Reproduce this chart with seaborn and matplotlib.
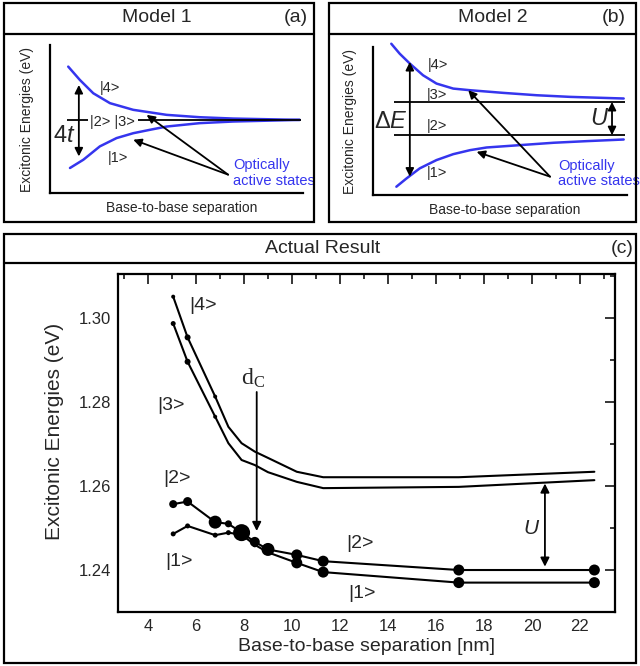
import numpy as np
import matplotlib
matplotlib.use("Agg")
import matplotlib.pyplot as plt
import seaborn as sns
from matplotlib.patches import Rectangle
from matplotlib.lines import Line2D
from matplotlib.ticker import MultipleLocator, FormatStrFormatter

sns.set_style("white")
plt.rcParams['font.family'] = ['Liberation Sans', 'DejaVu Sans']
plt.rcParams['mathtext.fontset'] = 'custom'
plt.rcParams['mathtext.rm'] = 'Liberation Sans'
plt.rcParams['mathtext.it'] = 'Liberation Sans:italic'

BLUE = '#3535ee'

# ---- panel (a): schematic, arbitrary units ----
a_up_x = [0.72, 1.18, 1.71, 2.37, 3.29, 4.61, 5.92, 7.24, 9.87]
a_up_y = [8.54, 7.64, 6.74, 6.07, 5.62, 5.28, 5.12, 5.03, 4.94]
a_lo_x = [0.79, 1.32, 1.97, 2.63, 3.29, 3.95, 4.61, 5.92, 7.24, 9.87]
a_lo_y = [1.69, 2.25, 3.15, 3.71, 4.04, 4.27, 4.49, 4.72, 4.83, 4.94]
a_mid_level = 4.94

# ---- panel (b): schematic, arbitrary units ----
b_up_x = [0.72, 1.05, 1.45, 1.97, 2.50, 3.16, 3.82, 5.13, 6.45, 7.76, 9.87]
b_up_y = [10.22, 9.55, 8.88, 8.09, 7.53, 7.19, 7.08, 6.90, 6.74, 6.63, 6.52]
b_lo_x = [0.92, 1.32, 1.84, 2.50, 3.16, 3.82, 4.47, 5.79, 7.11, 8.42, 9.87]
b_lo_y = [0.56, 1.12, 1.80, 2.36, 2.76, 3.03, 3.21, 3.37, 3.53, 3.64, 3.75]
b_level3 = 6.29
b_level2 = 4.04

# ---- panel (c): actual result ----
sep = [5.05, 5.65, 6.8, 7.35, 7.9, 8.45, 9.0, 10.2, 11.3, 16.95, 22.6]   # nm
E4 = [1.3051, 1.2954, 1.2813, 1.2741, 1.2702, 1.2682, 1.2667, 1.2634, 1.2621, 1.2621, 1.2634]
E3 = [1.2987, 1.2896, 1.2765, 1.2702, 1.2662, 1.2650, 1.2633, 1.2610, 1.2595, 1.2598, 1.2614]
E2 = [1.2557, 1.2563, 1.2514, 1.2510, 1.2489, 1.2467, 1.2449, 1.2436, 1.2421, 1.2400, 1.2400]
E1 = [1.2486, 1.2505, 1.2483, 1.2489, 1.2484, 1.2460, 1.2442, 1.2417, 1.2395, 1.2370, 1.2370]
# relative oscillator strength (marker weight)
w4 = [4, 6, 4]
w3 = [5, 6, 4]
w2 = [8, 9, 13, 7, 17, 10, 13, 11, 11, 11, 11]
w1 = [5, 5, 5, 5, 5, 5, 5, 11, 11, 11, 11]

W, H = 640, 666
fig = plt.figure(figsize=(W / 100, H / 100), dpi=100)


def fx(px):
    return px / W


def fy(py):
    return 1 - py / H


def frame(x0, y0, x1, y1, ysep):
    fig.add_artist(Rectangle((fx(x0), fy(y1)), fx(x1) - fx(x0), fy(y0) - fy(y1),
                             transform=fig.transFigure, fill=False, lw=1.6, color='k'))
    fig.add_artist(Line2D([fx(x0), fx(x1)], [fy(ysep), fy(ysep)],
                          transform=fig.transFigure, lw=1.6, color='k'))


frame(4, 3, 314, 222, 34)
frame(329, 3, 636, 222, 34)
frame(4, 234, 636, 663, 263)

fig.text(fx(157), fy(18), 'Model 1', ha='center', va='center', fontsize=14)
fig.text(fx(296), fy(18), '(a)', ha='center', va='center', fontsize=14)
fig.text(fx(493), fy(18), 'Model 2', ha='center', va='center', fontsize=14)
fig.text(fx(614), fy(18), '(b)', ha='center', va='center', fontsize=14)
fig.text(fx(323), fy(248), 'Actual Result', ha='center', va='center', fontsize=14)
fig.text(fx(622), fy(248), '(c)', ha='center', va='center', fontsize=14)


def schematic_axes(rect):
    ax = fig.add_axes(rect)
    ax.set_xlim(0, 10)
    ax.set_ylim(0, 10)
    ax.set_xticks([])
    ax.set_yticks([])
    for s in ['top', 'right']:
        ax.spines[s].set_visible(False)
    for s in ['left', 'bottom']:
        ax.spines[s].set_linewidth(1.6)
        ax.spines[s].set_color('k')
    ax.text(-0.09, 0.5, 'Excitonic Energies (eV)', rotation=90, ha='center', va='center',
            fontsize=10, transform=ax.transAxes)
    ax.text(0.52, -0.1, 'Base-to-base separation', ha='center', va='center',
            fontsize=10, transform=ax.transAxes)
    return ax


def arrow(ax, xy, xytext, style='-|>', lw=1.3, ms=12):
    ax.annotate('', xy=xy, xytext=xytext,
                arrowprops=dict(arrowstyle=style, color='k', lw=lw, mutation_scale=ms,
                                shrinkA=0, shrinkB=0))


# panel (a)
axa = schematic_axes([fx(50), fy(193), fx(303) - fx(50), fy(45) - fy(193)])
sns.lineplot(x=a_up_x, y=a_up_y, sort=False, estimator=None, color=BLUE, lw=1.8, ax=axa)
sns.lineplot(x=a_lo_x, y=a_lo_y, sort=False, estimator=None, color=BLUE, lw=1.8, ax=axa)
axa.hlines(a_mid_level, 0.66, 1.51, color='k', lw=1.3)
axa.hlines(a_mid_level, 3.49, 9.93, color='k', lw=1.3)
arrow(axa, (1.14, 7.30), (1.14, 2.47), style='<|-|>')
axa.text(1.02, 3.82, r'4$t$', fontsize=17, ha='right', va='center')
axa.text(2.37, 7.08, '|4>', fontsize=10.5, ha='center', va='center')
axa.text(2.45, 4.83, '|2> |3>', fontsize=10.5, ha='center', va='center')
axa.text(2.70, 2.36, '|1>', fontsize=10.5, ha='center', va='center')
axa.text(7.24, 1.35, 'Optically\nactive states', color=BLUE, fontsize=10.5,
         ha='left', va='center', linespacing=1.1)
arrow(axa, (3.82, 5.28), (7.04, 1.24))
arrow(axa, (3.29, 3.60), (7.04, 1.24))

# panel (b)
axb = schematic_axes([fx(373), fy(195), fx(627) - fx(373), fy(47) - fy(195)])
sns.lineplot(x=b_up_x, y=b_up_y, sort=False, estimator=None, color=BLUE, lw=1.8, ax=axb)
sns.lineplot(x=b_lo_x, y=b_lo_y, sort=False, estimator=None, color=BLUE, lw=1.8, ax=axb)
for ln in axb.lines:
    ln.set_clip_on(False)
axb.hlines([b_level3, b_level2], 0.82, 9.93, color='k', lw=1.3)
arrow(axb, (1.45, 8.99), (1.45, 1.24), style='<|-|>')
arrow(axb, (9.41, b_level3), (9.41, b_level2), style='<|-|>')
axb.text(0.72, 4.94, r'$\Delta E$', fontsize=17, ha='center', va='center')
axb.text(8.88, 5.17, 'U', fontsize=17, style='italic', ha='center', va='center')
axb.text(2.57, 8.76, '|4>', fontsize=10.5, ha='center', va='center')
axb.text(2.50, 6.74, '|3>', fontsize=10.5, ha='center', va='center')
axb.text(2.50, 4.65, '|2>', fontsize=10.5, ha='center', va='center')
axb.text(2.50, 1.46, '|1>', fontsize=10.5, ha='center', va='center')
axb.text(7.30, 1.46, 'Optically\nactive states', color=BLUE, fontsize=10.5,
         ha='left', va='center', linespacing=1.1)
arrow(axb, (3.75, 7.08), (6.97, 1.24))
arrow(axb, (4.08, 2.92), (6.97, 1.24))

# panel (c)
axc = fig.add_axes([fx(118), fy(612), fx(615) - fx(118), fy(274) - fy(612)])
for E in [E4, E3, E2, E1]:
    sns.lineplot(x=sep, y=E, sort=False, estimator=None, color='k', lw=1.5, ax=axc)


def dots(x, y, w):
    s = (0.72 * np.asarray(w, dtype=float)) ** 2
    sns.scatterplot(x=x, y=y, s=s, color='k', linewidth=0, zorder=3, ax=axc)


dots(sep[:3], E4[:3], w4)
dots(sep[:3], E3[:3], w3)
dots(sep, E1, w1)
dots(sep, E2, w2)

axc.set_xlim(2.75, 23.46)
axc.set_ylim(1.23, 1.3105)
axc.xaxis.set_major_locator(MultipleLocator(2))
axc.xaxis.set_minor_locator(MultipleLocator(1))
axc.yaxis.set_major_locator(MultipleLocator(0.02))
axc.yaxis.set_minor_locator(MultipleLocator(0.01))
axc.yaxis.set_major_formatter(FormatStrFormatter('%.2f'))
axc.tick_params(which='both', direction='in', top=True, right=True, width=1.3,
                labelsize=12, pad=5)
axc.tick_params(which='major', length=7)
axc.tick_params(which='minor', length=3.5)
axc.set_xticks(np.arange(4, 23, 2))
for s in axc.spines.values():
    s.set_linewidth(1.6)
    s.set_color('k')
axc.set_xlabel('Base-to-base separation [nm]', fontsize=14, labelpad=3)
axc.text(-0.127, 0.533, 'Excitonic Energies (eV)', rotation=90, ha='center', va='center',
         fontsize=15, transform=axc.transAxes)

axc.text(6.29, 1.3031, '|4>', fontsize=14, ha='center', va='center')
axc.text(4.96, 1.2791, '|3>', fontsize=14, ha='center', va='center')
axc.text(5.21, 1.2617, '|2>', fontsize=14, ha='center', va='center')
axc.text(5.29, 1.2421, '|1>', fontsize=14, ha='center', va='center')
axc.text(12.83, 1.2462, '|2>', fontsize=14, ha='center', va='center')
axc.text(12.92, 1.2343, '|1>', fontsize=14, ha='center', va='center')
axc.text(8.375, 1.2857, r'd$_\mathregular{C}$', fontsize=17, family='Liberation Serif',
         ha='center', va='center')
axc.annotate('', xy=(8.53, 1.2493), xytext=(8.53, 1.2824),
             arrowprops=dict(arrowstyle='-|>', color='k', lw=1.3, mutation_scale=13,
                             shrinkA=0, shrinkB=0))
axc.annotate('', xy=(20.54, 1.2606), xytext=(20.54, 1.2408),
             arrowprops=dict(arrowstyle='<|-|>', color='k', lw=1.3, mutation_scale=13,
                             shrinkA=0, shrinkB=0))
axc.text(19.96, 1.2498, 'U', fontsize=15, style='italic', ha='center', va='center')

fig.savefig('out.png', dpi=100)
